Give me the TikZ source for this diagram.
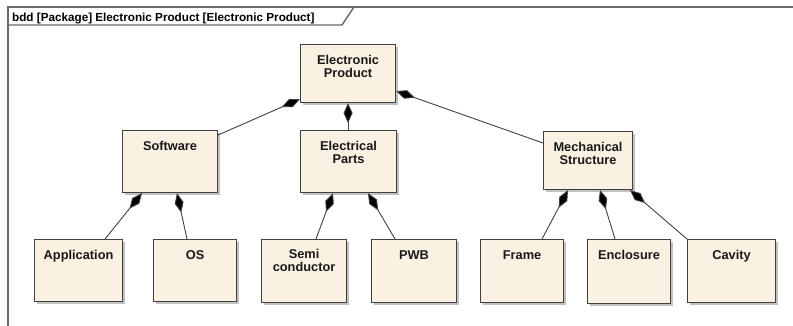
\documentclass[tikz,border=0pt]{standalone}
\usepackage{fontspec}
\setmainfont{Liberation Sans}
\usetikzlibrary{arrows.meta,shadows,calc}
\definecolor{boxfill}{HTML}{FBF1E2}
\definecolor{boxline}{HTML}{404040}
\definecolor{frameline}{HTML}{6A6A6A}
\tikzset{
  box/.style={draw=boxline, line width=1.1pt, fill=boxfill, anchor=north west, inner sep=0pt,
    drop shadow={shadow xshift=2.5pt, shadow yshift=-2.5pt, fill=black!30, opacity=0.8}},
  lbl/.style={anchor=north, inner sep=0pt, align=center, font=\bfseries\fontsize{12.8}{13.5}\selectfont, text=black!90},
  comp/.style={draw=boxline, line width=0.9pt, {Diamond[length=20pt,width=9pt,fill=black]}-},
  frameln/.style={draw=frameline, line width=1.4pt}
}
\begin{document}
\begin{tikzpicture}[x=1pt,y=-1pt]
\useasboundingbox (0,0) rectangle (793,326);
% frame
\draw[frameln] (8,326) -- (8,7) -- (793,7);
\draw[frameln] (8,25) -- (342,25) -- (354,7);
\node[anchor=base west, inner sep=0pt, font=\bfseries\fontsize{11.7}{12}\selectfont] (title) at (12,21.5) {bdd [Package] Electronic Product [Electronic Product]};
% boxes
\node[box, minimum width=95pt, minimum height=58pt] (ep) at (300,44) {};
\node[box, minimum width=95pt, minimum height=62pt] (sw) at (122,130) {};
\node[box, minimum width=96pt, minimum height=62pt] (el) at (300,130) {};
\node[box, minimum width=89pt, minimum height=58pt] (me) at (543,131) {};
\node[box, minimum width=88pt, minimum height=62pt] (ap) at (34,239) {};
\node[box, minimum width=83pt, minimum height=62pt] (os) at (153,239) {};
\node[box, minimum width=85pt, minimum height=63pt] (sc) at (261,239) {};
\node[box, minimum width=85pt, minimum height=63pt] (pwb) at (371,239) {};
\node[box, minimum width=83pt, minimum height=63pt] (fr) at (480,239) {};
\node[box, minimum width=83pt, minimum height=64pt] (en) at (587,239) {};
\node[box, minimum width=88pt, minimum height=63pt] (ca) at (687,239) {};
% labels
\node[lbl] (ept) at ([yshift=-11pt]ep.north) {Electronic\\Product};
\node[lbl] (swt) at ([yshift=-11pt]sw.north) {Software};
\node[lbl] (elt) at ([yshift=-11pt]el.north) {Electrical\\Parts};
\node[lbl] (met) at ([yshift=-11pt]me.north) {Mechanical\\Structure};
\node[lbl] (apt) at ([yshift=-11pt]ap.north) {Application};
\node[lbl] (ost) at ([yshift=-11pt]os.north) {OS};
\node[lbl] (sct) at ([yshift=-10pt]sc.north) {Semi\\conductor};
\node[lbl] (pwbt) at ([yshift=-11pt]pwb.north) {PWB};
\node[lbl] (frt) at ([yshift=-11pt]fr.north) {Frame};
\node[lbl] (ent) at ([yshift=-11pt]en.north) {Enclosure};
\node[lbl] (cat) at ([yshift=-11pt]ca.north) {Cavity};
% connectors
\draw[comp] ([yshift=4pt]ep.south west) -- ([yshift=-5pt]sw.north east);
\draw[comp] (ep.south) -- (ep.south |- el.north);
\draw[comp] ([yshift=12pt]ep.south east) -- ([yshift=-12pt]me.north west);
\draw[comp] ([xshift=20pt]sw.south west) -- ([xshift=71pt]ap.north west);
\draw[comp] ([xshift=55pt]sw.south west) -- ([xshift=34pt]os.north west);
\draw[comp] ([xshift=33pt]el.south west) -- ([xshift=55pt]sc.north west);
\draw[comp] ([xshift=68pt]el.south west) -- ([xshift=24pt]pwb.north west);
\draw[comp] ([xshift=25pt]me.south west) -- ([xshift=62pt]fr.north west);
\draw[comp] ([xshift=57pt]me.south west) -- ([xshift=28pt]en.north west);
\draw[comp] ([xshift=87pt]me.south west) -- (ca.north west);
\end{tikzpicture}
\end{document}
